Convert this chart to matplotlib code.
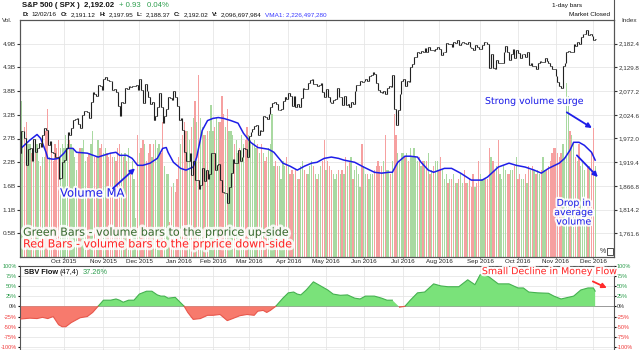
import matplotlib
matplotlib.use("Agg")
import matplotlib.pyplot as plt
import matplotlib.patheffects as pe
from matplotlib.lines import Line2D
import numpy as np
import pandas as pd

plt.rcParams["font.family"] = ["Liberation Sans", "DejaVu Sans"]

# ---- data: S&P 500 daily, 27 Aug 2015 .. 2 Dec 2016 ----
market_holidays = ["2015-09-07", "2015-11-26", "2015-12-25", "2016-01-01", "2016-01-18",
                   "2016-02-15", "2016-03-25", "2016-05-30", "2016-07-04", "2016-09-05",
                   "2016-11-24"]
prev_close = 1940.5

closes = [
    1988, 1989, 1972,
    1914, 1948, 1951, 1921, 1970, 1942, 1952, 1961, 1953, 1979, 1996, 1990, 1958, 1966, 1943,
    1939, 1932, 1931, 1882, 1884, 1920,
    1924, 1951, 1987, 1979, 1996, 2014, 2015, 2017, 2004, 1995, 2024, 2033, 2033, 2030, 2018,
    2052, 2075, 2071, 2066, 2090, 2089, 2079,
    2104, 2109, 2102, 2100, 2099, 2079, 2081, 2076, 2045, 2023, 2053, 2051, 2084, 2082, 2089,
    2087, 2089, 2089, 2090, 2080,
    2103, 2080, 2050, 2092, 2077, 2063, 2048, 2053, 2012, 2022, 2043, 2073, 2041, 2006, 2022,
    2038, 2065, 2061, 2057, 2078, 2063, 2044,
    2012, 2017, 1990, 1943, 1922, 1923, 1939, 1890, 1922, 1880, 1881, 1859, 1869, 1907, 1878,
    1903, 1883, 1894, 1940,
    1940, 1903, 1913, 1916, 1880, 1854, 1852, 1852, 1829, 1865, 1896, 1927, 1918, 1918, 1946,
    1922, 1930, 1952, 1948, 1932,
    1978, 1987, 1994, 2000, 2001, 1980, 1990, 1989, 2022, 2020, 2016, 2027, 2041, 2050, 2052,
    2049, 2036, 2036, 2037, 2056, 2064, 2060,
    2073, 2067, 2045, 2066, 2041, 2048, 2041, 2062, 2083, 2082, 2081, 2095, 2101, 2103, 2092,
    2092, 2088, 2091, 2096, 2075, 2065,
    2081, 2064, 2052, 2051, 2058, 2059, 2085, 2064, 2065, 2047, 2066, 2047, 2048, 2041, 2052,
    2048, 2077, 2090, 2090, 2099, 2097,
    2099, 2105, 2100, 2110, 2112, 2119, 2116, 2096, 2079, 2075, 2072, 2077, 2071, 2083, 2089,
    2086, 2113, 2038, 2001, 2036, 2071, 2099,
    2103, 2089, 2100, 2098, 2130, 2137, 2152, 2152, 2163, 2162, 2166, 2164, 2173, 2165, 2175,
    2169, 2169, 2167, 2170, 2174,
    2171, 2157, 2164, 2164, 2183, 2181, 2182, 2175, 2186, 2184, 2191, 2179, 2183, 2187, 2184,
    2182, 2187, 2176, 2172, 2169, 2180, 2176, 2171,
    2171, 2180, 2187, 2186, 2182, 2128, 2160, 2128, 2126, 2147, 2139, 2139, 2140, 2164, 2178,
    2165, 2146, 2160, 2171, 2151, 2168,
    2161, 2150, 2160, 2160, 2153, 2164, 2136, 2139, 2132, 2133, 2127, 2140, 2144, 2141, 2141,
    2151, 2144, 2139, 2133, 2127, 2126,
    2111, 2098, 2088, 2085, 2132, 2140, 2163, 2167, 2164, 2165, 2181, 2177, 2187, 2182, 2198,
    2203, 2204, 2213, 2202, 2205, 2199,
    2191.1, 2192.02,
]

# volume in billions of shares
volumes = [
    3.6, 2.9, 3.0,
    3.1, 2.6, 2.6, 2.4, 2.5, 2.4, 2.6, 2.2, 2.1, 2.3, 2.3, 2.9, 3.4, 2.3, 2.6, 2.2, 2.6, 2.5,
    2.7, 2.5, 2.6,
    2.5, 2.8, 2.6, 2.7, 2.6, 2.5, 2.3, 2.0, 2.4, 2.5, 2.5, 2.7, 2.2, 2.3, 2.4, 2.6, 2.9, 2.3,
    2.3, 2.7, 2.5, 2.6,
    2.4, 2.5, 2.4, 2.3, 2.4, 2.3, 2.3, 2.2, 2.5, 2.6, 2.4, 2.3, 2.4, 2.2, 2.5, 2.0, 2.2, 1.8,
    0.9, 2.8,
    2.4, 2.5, 2.7, 2.6, 2.2, 2.4, 2.6, 2.3, 2.6, 2.7, 2.5, 2.6, 2.4, 3.1, 2.1, 1.9, 1.9, 0.8,
    1.6, 1.7, 1.5, 1.8,
    2.3, 2.6, 2.8, 3.1, 2.9, 2.9, 2.7, 3.0, 3.2, 3.6, 3.1, 4.2, 3.2, 3.0, 2.8, 2.8, 2.9, 2.9,
    3.5,
    2.9, 3.0, 3.2, 3.1, 3.1, 3.7, 3.3, 3.0, 3.4, 2.9, 2.9, 2.8, 2.6, 2.7, 2.4, 2.5, 2.8, 2.6,
    2.7, 3.0,
    2.8, 2.7, 2.6, 2.7, 2.5, 2.6, 2.4, 2.6, 2.4, 2.2, 2.3, 2.5, 2.6, 3.3, 2.1, 2.2, 2.1, 2.1,
    1.8, 2.2, 2.1, 2.3,
    2.1, 1.9, 2.0, 1.9, 2.0, 1.8, 1.8, 2.1, 2.2, 2.0, 1.9, 1.9, 2.1, 2.2, 2.1, 1.9, 1.8, 1.9,
    2.1, 2.2, 2.7,
    2.0, 2.2, 2.1, 2.0, 1.9, 1.8, 1.9, 2.0, 1.9, 2.0, 1.9, 2.3, 2.1, 2.2, 2.3, 1.8, 2.0, 2.1,
    1.9, 1.6, 2.6,
    2.1, 1.9, 1.9, 1.8, 1.9, 1.9, 2.0, 2.1, 2.2, 2.1, 2.1, 2.2, 2.8, 2.0, 2.0, 1.9, 2.2, 3.3,
    2.8, 2.4, 2.2, 2.4,
    2.4, 2.3, 2.4, 2.2, 2.5, 2.3, 2.5, 2.3, 2.2, 2.3, 2.1, 2.2, 2.2, 2.2, 2.4, 1.9, 2.0, 2.1,
    2.2, 2.2,
    2.0, 2.3, 2.0, 1.8, 1.9, 1.7, 1.8, 1.8, 1.9, 1.7, 1.7, 1.8, 1.9, 1.7, 2.0, 1.7, 1.7, 1.8,
    1.6, 1.9, 1.6, 1.7, 2.2,
    1.9, 1.8, 1.8, 1.8, 1.8, 2.5, 2.3, 2.2, 2.0, 2.1, 2.7, 1.9, 1.8, 2.1, 2.0, 1.9, 1.9, 2.0,
    2.0, 2.1, 2.3,
    1.8, 1.9, 1.8, 1.8, 1.9, 1.7, 2.1, 2.0, 2.1, 2.0, 1.9, 2.0, 1.9, 2.0, 2.3, 2.0, 2.0, 2.1,
    2.2, 2.4, 2.5,
    2.5, 2.4, 2.3, 2.4, 2.6, 2.3, 4.0, 3.7, 2.9, 2.8, 2.6, 2.3, 2.2, 2.6, 2.1, 2.2, 2.0, 1.1,
    2.1, 2.1, 2.4,
    2.96, 2.10,
]

# volume moving average (bar index, billions)
vma_idx = [0, 5, 9, 11, 14, 15, 18, 21, 24, 26, 29, 31, 37, 43, 46, 50, 53, 55, 59, 62, 65,
           68, 72, 76, 79, 81, 82, 85, 89, 92, 96, 98, 101, 104, 107, 110, 113, 117, 121, 124,
           128, 132, 138, 141, 146, 150, 154, 158, 162, 165, 169, 173, 177, 180, 186, 191, 197,
           201, 205, 207, 210, 214, 217, 221, 223, 227, 230, 236, 240, 245, 251, 257, 260, 266,
           272, 276, 281, 286, 290, 294, 300, 303, 306, 308, 311, 314, 318, 320]
vma_val = [2.50, 2.69, 2.82, 2.73, 2.41, 2.27, 2.25, 2.27, 2.39, 2.50, 2.50, 2.41, 2.39, 2.30,
           2.34, 2.39, 2.41, 2.34, 2.34, 2.27, 2.11, 2.11, 2.16, 2.27, 2.50, 2.52, 2.41, 2.18,
           2.04, 2.00, 2.07, 2.30, 2.91, 3.14, 3.19, 3.21, 3.19, 3.14, 3.08, 2.85, 2.64, 2.52,
           2.48, 2.41, 2.16, 2.09, 2.00, 2.09, 2.16, 2.18, 2.27, 2.30, 2.27, 2.23, 2.18, 2.07,
           1.95, 1.93, 1.95, 1.95, 2.18, 2.32, 2.32, 2.30, 2.18, 2.00, 1.95, 2.04, 2.04, 1.93,
           1.77, 1.77, 1.84, 2.07, 2.16, 2.11, 2.07, 2.00, 1.93, 2.04, 2.16, 2.27, 2.46, 2.64,
           2.64, 2.57, 2.41, 2.23]

# SBV money flow oscillator (bar index, percent)
sbv_idx = [0, 5, 9, 12, 15, 18, 21, 23, 25, 28, 33, 37, 40, 43, 46, 50, 53, 55, 57, 60, 63,
           66, 70, 73, 76, 78, 80, 82, 86, 91, 93, 96, 100, 104, 107, 111, 115, 118, 122, 126,
           130, 132, 135, 137, 139, 142, 146, 149, 152, 154, 156, 159, 163, 165, 167, 171, 174,
           178, 182, 186, 189, 192, 197, 201, 204, 207, 211, 214, 217, 221, 225, 230, 234, 238,
           244, 249, 253, 256, 260, 266, 272, 277, 280, 283, 288, 294, 297, 301, 305, 308, 312,
           316, 319, 320]
sbv_val = [-31, -29, -30, -27, -30, -25, -45, -50, -50, -40, -28, -25, -15, 0, 15, 15, 18, 15,
           10, 15, 15, 30, 37, 37, 28, 25, 25, 20, 22, 0, -15, -32, -30, -22, -22, -20, -35, -30,
           -23, -20, -22, -12, -10, -15, -10, 0, 20, 33, 35, 30, 28, 40, 60, 55, 50, 40, 30, 27,
           28, 20, 18, 25, 25, 20, 15, 15, -2, 0, 15, 33, 35, 55, 50, 48, 48, 65, 53, 78, 75, 55,
           55, 45, 45, 35, 33, 32, 25, 18, 22, 25, 40, 45, 45, 37.26]

month_names = ["Oct 2015", "Nov 2015", "Dec 2015", "Jan 2016", "Feb 2016", "Mar 2016",
               "Apr 2016", "May 2016", "Jun 2016", "Jul 2016", "Aug 2016", "Sep 2016",
               "Oct 2016", "Nov 2016", "Dec 2016"]
vol_tick_labels = ["0.5B", "1.1B", "1.6B", "2.2B", "2.7B", "3.2B", "3.8B", "4.3B", "4.9B"]
price_ticks = [1761.6, 1814.2, 1866.8, 1919.4, 1972.0, 2024.6, 2077.2, 2129.8, 2182.4]
sbv_ticks = [100, 75, 50, 25, 0, -25, -50, -75, -100]

# ---- derived series ----
dates = pd.bdate_range("2015-08-27", "2016-12-02", freq="C", holidays=market_holidays)
n = len(dates)
x = np.arange(n)
c = np.array(closes, float)
o = np.r_[prev_close, c[:-1]]
hi = np.maximum(o, c)
lo = np.minimum(o, c)
up = c >= o
v = np.array(volumes)

# first bar of each month from October 2015 on
month_pos = [i for i in range(1, n) if dates[i].month != dates[i - 1].month][1:]

GRID = "#e6e6e6"
BLUE = "#1e1ee8"
GREEN_TXT = "#2e9e4e"
RED_TXT = "#f03a3a"

W, H = 640, 350
def fx(px):
    return px / W
def fy(py):
    return 1 - py / H

fig = plt.figure(figsize=(6.4, 3.5), dpi=100)
fig.patch.set_facecolor("white")

ax_vol = fig.add_axes([fx(20), fy(257), fx(614) - fx(20), fy(20) - fy(257)])
ax_px = ax_vol.twinx()
ax_sbv = fig.add_axes([fx(20), 0, fx(614) - fx(20), fy(265.5)])

vol_step = 0.5455
ax_vol.set_ylim(0, vol_step * 10)
ax_px.set_ylim(1709.0, 2235.0)
xlim = (-0.5, n - 1 + 10.5)
ax_vol.set_xlim(*xlim)
ax_sbv.set_xlim(*xlim)

# volume bars
ax_vol.set_axisbelow(True)
bar_cols = np.where(up, "#a9d9a1", "#f6a0a0")
ax_vol.bar(x, v, width=0.72, color=bar_cols, linewidth=0)
ax_vol.plot(vma_idx, vma_val, color=BLUE, lw=1.1, zorder=3)

ax_vol.set_yticks([vol_step * (k + 1) for k in range(9)])
ax_vol.set_yticklabels(vol_tick_labels)
ax_vol.set_xticks(month_pos)
ax_vol.set_xticklabels(month_names)
ax_vol.grid(True, color=GRID, lw=0.6)
ax_vol.tick_params(axis="y", labelsize=4.6, length=2, pad=1, colors="#333333")
ax_vol.tick_params(axis="x", labelsize=4.5, length=1, pad=0.3, colors="#222222")

# price bars
ax_px.vlines(x, lo, hi, color="#222222", lw=0.8)
ax_px.hlines(o, x - 0.45, x, color="#222222", lw=0.6)
ax_px.hlines(c, x, x + 0.45, color="#222222", lw=0.6)
ax_px.set_yticks(price_ticks)
ax_px.set_yticklabels([f"{t:,.1f}" for t in price_ticks])
ax_px.tick_params(axis="y", labelsize=4.5, length=2, pad=1.5, colors="#333333")

for a in (ax_vol, ax_px, ax_sbv):
    for s in a.spines.values():
        s.set_color("#555555")
        s.set_linewidth(0.8)

# annotations on the volume panel
glow = [pe.withStroke(linewidth=3, foreground="white", alpha=0.9)]
arrow_kw = dict(arrowstyle="-|>", color=BLUE, lw=1.3, mutation_scale=7,
                shrinkA=0, shrinkB=0)
tr = ax_vol.transData

ax_px.text(21.8, 1.47, "Volume MA", transform=tr, color=BLUE, fontsize=8.3,
           family="DejaVu Sans", va="center", ha="left", path_effects=glow, zorder=6)
ax_px.annotate("", xy=(63.6, 2.04), xycoords=tr, xytext=(51.3, 1.58), textcoords=tr,
               arrowprops=arrow_kw, zorder=6)

ax_px.text(258.6, 3.58, "Strong volume surge", transform=tr, color=BLUE, fontsize=6.8,
           family="DejaVu Sans", va="center", ha="left", path_effects=glow, zorder=6)
ax_px.annotate("", xy=(318.2, 2.97), xycoords=tr, xytext=(304.2, 3.33), textcoords=tr,
               arrowprops=arrow_kw, zorder=6)

ax_px.text(308.1, 1.02, "Drop in\naverage\nvolume", transform=tr, color=BLUE,
           fontsize=6.8, family="DejaVu Sans", va="center", ha="center",
           linespacing=1.05, path_effects=glow, zorder=6)
ax_px.annotate("", xy=(321.5, 1.84), xycoords=tr, xytext=(309.8, 2.34), textcoords=tr,
               arrowprops=arrow_kw, zorder=6)

ax_px.text(1.2, 0.56, "Green Bars - volume bars to the prprice up-side", transform=tr,
           color="#3a6b30", fontsize=8.0, family="DejaVu Sans", va="center", ha="left",
           path_effects=[pe.withStroke(linewidth=4, foreground="white", alpha=0.85)],
           zorder=6)
ax_px.text(1.2, 0.29, "Red Bars - volume bars to the prprice down-side", transform=tr,
           color="#ff2626", fontsize=8.0, family="DejaVu Sans", va="center", ha="left",
           path_effects=[pe.withStroke(linewidth=4, foreground="white", alpha=0.85)],
           zorder=6)

ax_px.text(322.5, 0.12, "%", transform=tr, fontsize=5, color="#333333", va="center",
           ha="left", zorder=6)
ax_px.add_patch(plt.Rectangle((326.5, 0.05), 3.2, 0.15, transform=tr, fill=False,
                              ec="#333333", lw=0.6, zorder=6))

# SBV flow panel
si = np.array(sbv_idx, float)
sv = np.array(sbv_val, float)
ax_sbv.set_ylim(-107, 100)
ax_sbv.fill_between(si, 0, sv, where=sv >= 0, interpolate=True, color="#7ae27a", lw=0,
                    zorder=2)
ax_sbv.fill_between(si, 0, sv, where=sv <= 0, interpolate=True, color="#f77a6d", lw=0,
                    zorder=2)
ax_sbv.plot(si, np.ma.masked_where(sv < 0, sv), color="#45b150", lw=0.8, zorder=3)
ax_sbv.plot(si, np.ma.masked_where(sv > 0, sv), color="#e8574c", lw=0.8, zorder=3)
ax_sbv.axhline(0, color="#9a9a9a", lw=0.7, zorder=1)
ax_sbv.set_yticks(sbv_ticks)
ax_sbv.set_yticklabels([f"{t}%" for t in sbv_ticks])
ax_sbv.set_xticks(month_pos)
ax_sbv.tick_params(axis="x", length=0, labelbottom=False)
ax_sbv.tick_params(axis="y", labelsize=4.0, length=1.5, pad=0.6, labelright=True,
                   right=True)
ax_sbv.grid(True, color=GRID, lw=0.6)
ax_sbv.set_axisbelow(True)
for t, val in zip(ax_sbv.yaxis.get_major_ticks(), sbv_ticks):
    col = GREEN_TXT if val > 0 else (RED_TXT if val < 0 else "#333333")
    t.label1.set_color(col)
    t.label2.set_color(col)

ax_sbv.text(0.006, 0.92, "SBV Flow", transform=ax_sbv.transAxes, fontsize=5.3,
            fontweight="bold", va="center", ha="left", color="#111111")
ax_sbv.text(0.066, 0.92, "(47,4)", transform=ax_sbv.transAxes, fontsize=5.3,
            va="center", ha="left", color="#111111")
ax_sbv.text(0.105, 0.92, "37.26%", transform=ax_sbv.transAxes, fontsize=5.3,
            va="center", ha="left", color=GREEN_TXT)
ax_sbv.text(256.9, 85, "Small Decline in Money Flow", color="#ff2a2a", fontsize=6.8,
            family="DejaVu Sans", va="center", ha="left", path_effects=glow, zorder=6)
ax_sbv.annotate("", xy=(326.5, 45), xytext=(318.7, 61),
                arrowprops=dict(arrowstyle="-|>", color="#ff2a2a", lw=1.3,
                                mutation_scale=7, shrinkA=0, shrinkB=0), zorder=6)

# header
fig.text(fx(22), fy(5.5), "S&P 500 ( SPX )  2,192.02", fontsize=5.6, fontweight="bold",
         va="center", ha="left", color="#111111")
fig.text(fx(119), fy(5.5), "+ 0.93   0.04%", fontsize=5.6, va="center", ha="left",
         color=GREEN_TXT)

header_items = [("D:", "12/02/16"), ("O:", "2,191.12"), ("H:", "2,197.95"),
                ("L:", "2,188.37"), ("C:", "2,192.02"), ("V:", "2,096,697,984")]
renderer = fig.canvas.get_renderer()
xpos = 22.7
for lab, val in header_items:
    t = fig.text(fx(xpos), fy(14.5), lab, fontsize=4.6, fontweight="bold", va="center",
                 ha="left", color="#111111")
    xpos += t.get_window_extent(renderer).width + 2.5
    t = fig.text(fx(xpos), fy(14.5), val, fontsize=4.6, va="center", ha="left",
                 color="#111111")
    xpos += t.get_window_extent(renderer).width + 4.0
fig.text(fx(xpos), fy(14.5), "VMA1: 2,226,497,280", fontsize=4.6, va="center", ha="left",
         color="#3a3aff")
fig.text(fx(582), fy(5.5), "1-day bars", fontsize=4.6, va="center", ha="right",
         color="#111111")
fig.text(fx(610), fy(14.5), "Market Closed", fontsize=4.6, va="center", ha="right",
         color="#111111")
fig.text(fx(2), fy(20.5), "Vol.", fontsize=4.6, va="center", ha="left", color="#333333")
fig.text(fx(621), fy(20.5), "Index", fontsize=4.6, va="center", ha="left",
         color="#333333")
fig.add_artist(Line2D([fx(614), fx(614)], [fy(0), fy(20)], color="#555555", lw=0.8))

fig.savefig("out.png", dpi=100)
